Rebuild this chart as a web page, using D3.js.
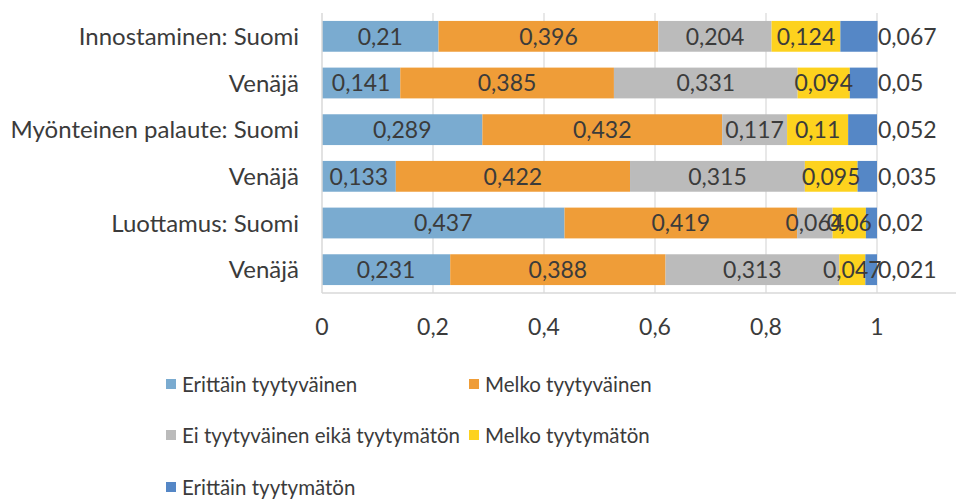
<!DOCTYPE html>
<html>
<head>
<meta charset="utf-8">
<script src="https://cdn.jsdelivr.net/npm/d3@7"></script>
<style>
  body { margin: 0; background: #fff; }
  text { font-family: Lato, "Open Sans", sans-serif; fill: #3b3b3b; }
</style>
</head>
<body>
<script>
// data
let categories = ["Innostaminen: Suomi", "Venäjä", "Myönteinen palaute: Suomi", "Venäjä", "Luottamus: Suomi", "Venäjä"];
let seriesNames = ["Erittäin tyytyväinen", "Melko tyytyväinen", "Ei tyytyväinen eikä tyytymätön", "Melko tyytymätön", "Erittäin tyytymätön"];
let erittainTyyt = [0.21, 0.141, 0.289, 0.133, 0.437, 0.231];
let melkoTyyt = [0.396, 0.385, 0.432, 0.422, 0.419, 0.388];
let eiKumpikaan = [0.204, 0.331, 0.117, 0.315, 0.064, 0.313];
let melkoTyytym = [0.124, 0.094, 0.11, 0.095, 0.06, 0.047];
let erittainTyytym = [0.067, 0.05, 0.052, 0.035, 0.02, 0.021];
let xTicks = [0, 0.2, 0.4, 0.6, 0.8, 1];

let colors = ["#7aabd0", "#ef9d38", "#bbbbbb", "#fdd21e", "#5587c6"];
let values = [erittainTyyt, melkoTyyt, eiKumpikaan, melkoTyytym, erittainTyytym];

let width = 956, height = 500;
let plot = {left: 322, right: 877, top: 13, bottom: 293};

let svg = d3.select("body").append("svg")
  .attr("width", width)
  .attr("height", height);

let rows = categories.map(function(c, i) {
  let r = {key: i, name: c};
  seriesNames.forEach(function(s, j) { r[s] = values[j][i]; });
  return r;
});
let stacked = d3.stack().keys(seriesNames)(rows);

let x = d3.scaleLinear().domain([0, 1]).range([plot.left, plot.right]);
let y = d3.scaleBand()
  .domain(d3.range(categories.length))
  .range([plot.top, plot.bottom])
  .paddingInner(0.34)
  .paddingOuter(0.17);

// gridlines
svg.append("g")
  .selectAll("line")
  .data(xTicks.slice(1))
  .enter().append("line")
    .attr("x1", d => x(d)).attr("x2", d => x(d))
    .attr("y1", plot.top).attr("y2", plot.bottom)
    .attr("stroke", "#d9d9d9").attr("stroke-width", 1.2);

// bars
let layers = svg.append("g").selectAll("g")
  .data(stacked)
  .enter().append("g")
    .attr("fill", (d, i) => colors[i]);

layers.selectAll("rect")
  .data(d => d)
  .enter().append("rect")
    .attr("x", d => x(d[0]))
    .attr("y", (d, i) => y(i))
    .attr("width", d => x(d[1]) - x(d[0]))
    .attr("height", y.bandwidth());

// data labels, drawn on top of all bars
let labelGroup = svg.append("g");
stacked.forEach(function(layer, j) {
  labelGroup.append("g").selectAll("text")
    .data(layer)
    .enter().append("text")
      .attr("x", d => j === 4 ? x(1) + 1 : (x(d[0]) + x(d[1])) / 2)
      .attr("y", (d, i) => y(i) + y.bandwidth() / 2)
      .attr("dy", "0.36em")
      .attr("text-anchor", j === 4 ? "start" : "middle")
      .style("font-size", "23px")
      .text(d => d3.format(".3~f")(d[1] - d[0]).replace(".", ","));
});

// axes lines
svg.append("line")
  .attr("x1", plot.left).attr("x2", width)
  .attr("y1", plot.bottom).attr("y2", plot.bottom)
  .attr("stroke", "#d9d9d9").attr("stroke-width", 1.5);
svg.append("line")
  .attr("x1", plot.left).attr("x2", plot.left)
  .attr("y1", plot.top).attr("y2", plot.bottom)
  .attr("stroke", "#d9d9d9").attr("stroke-width", 1.5);

// tick labels
svg.append("g").selectAll("text")
  .data(xTicks)
  .enter().append("text")
    .attr("x", d => x(d))
    .attr("y", 327)
    .attr("dy", "0.36em")
    .attr("text-anchor", "middle")
    .style("font-size", "23px")
    .text(d => String(d).replace(".", ","));

// category labels
svg.append("g").selectAll("text")
  .data(categories)
  .enter().append("text")
    .attr("x", 299)
    .attr("y", (d, i) => y(i) + y.bandwidth() / 2)
    .attr("dy", "0.36em")
    .attr("text-anchor", "end")
    .style("font-size", "24px")
    .text(d => d);

// legend
let legendPos = [[166, 385], [469, 385], [166, 436], [469, 436], [166, 488]];
let legend = svg.append("g").selectAll("g")
  .data(seriesNames)
  .enter().append("g")
    .attr("transform", (d, i) => "translate(" + legendPos[i][0] + "," + legendPos[i][1] + ")");
legend.append("rect")
  .attr("x", 0).attr("y", -6)
  .attr("width", 10).attr("height", 10)
  .attr("fill", (d, i) => colors[i]);
legend.append("text")
  .attr("x", 16)
  .attr("dy", "0.36em")
  .style("font-size", "20.5px")
  .text(d => d);
</script>
</body>
</html>
